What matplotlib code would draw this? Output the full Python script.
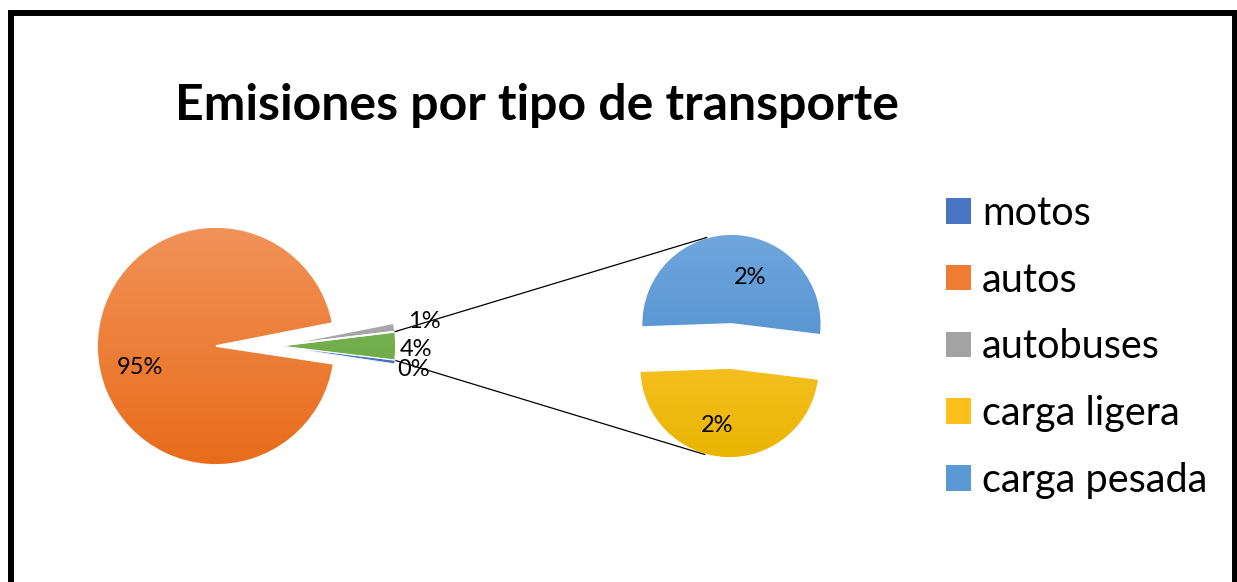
import numpy as np
import matplotlib.pyplot as plt
from matplotlib.patches import Patch
from matplotlib.colors import LinearSegmentedColormap

plt.rcParams['font.family'] = ['Lato', 'DejaVu Sans']

# datos (emisiones relativas)
categorias = ['motos', 'autos', 'autobuses', 'carga ligera', 'carga pesada']
emisiones = [0.48, 98.0, 1.2, 1.9, 2.1]
titulo = 'Emisiones por tipo de transporte'

# colores (arriba, abajo) del degradado de cada serie
col_arriba = ['#5D86D0', '#F19258', '#B3B3B3', '#FFCB40', '#6FA7DD']
col_abajo = ['#3262B8', '#E86C1A', '#979797', '#EAB400', '#4889CA']
col_otro = ('#82BC5C', '#62A03A')
col_leyenda = ['#4A74C4', '#EE7D33', '#A3A3A3', '#FBC11A', '#5A99D5']

W, H = 1237, 582
fig = plt.figure(figsize=(W / 100, H / 100), dpi=100)
ax = fig.add_axes([0, 0, 1, 1])

def degradado(w, c1, c2, z=2):
    cx, cy = w.center
    r = w.r
    cmap = LinearSegmentedColormap.from_list('g', [c2, c1])
    grad = np.linspace(0, 1, 256).reshape(-1, 1)
    im = ax.imshow(grad, cmap=cmap, extent=[cx - r, cx + r, cy - r, cy + r],
                   origin='lower', aspect='auto', zorder=z - 1)
    im.set_clip_path(w)
    w.set_facecolor('none')
    w.set_zorder(z)

total = sum(emisiones)
# pastel principal: motos, autos, autobuses, otro
otro = emisiones[3] + emisiones[4]
principal = [emisiones[0], emisiones[1], emisiones[2], otro]
c_main = (216, H - 346)
r_main = 119
w_main, _, t_main = ax.pie(principal, radius=r_main, center=c_main, counterclock=False,
                           startangle=-otro / total * 360 / 2, frame=True,
                           autopct=lambda p: f'{p:.0f}%',
                           textprops=dict(fontsize=17, color='black'),
                           wedgeprops=dict(edgecolor='white', linewidth=1.3))
colores_main = [(col_arriba[0], col_abajo[0]), (col_arriba[1], col_abajo[1]),
                (col_arriba[2], col_abajo[2]), col_otro]
desplaz = 61
for i, w in enumerate(w_main):
    if i != 1:
        w.set_center((c_main[0] + desplaz, c_main[1]))
    degradado(w, *colores_main[i])
# motos es muy delgada: encima, con borde fino
w_main[0].set_linewidth(0.6)
degradado(w_main[0], *colores_main[0], z=4)
pos_main = [(414, 370), (140, 367), (424, 321), (416, 349)]
for t, (px, py) in zip(t_main, pos_main):
    t.set_position((px, H - py))
    t.set_ha('center')
    t.set_va('center')
    t.set_zorder(5)

# pastel secundario: carga pesada, carga ligera
secundario = [emisiones[4], emisiones[3]]
c_sec = (730.5, H - 346)
r_sec = 90
w_sec, _, t_sec = ax.pie(secundario, radius=r_sec, center=c_sec, startangle=-7,
                         explode=[22, 22], frame=True,
                         autopct=lambda p: f'{p * otro / total:.0f}%',
                         textprops=dict(fontsize=17, color='black'),
                         wedgeprops=dict(edgecolor='white', linewidth=1.3))
degradado(w_sec[0], col_arriba[4], col_abajo[4])
degradado(w_sec[1], col_arriba[3], col_abajo[3])
for t, (px, py) in zip(t_sec, [(750, 278), (717, 425)]):
    t.set_position((px, H - py))
    t.set_ha('center')
    t.set_va('center')
    t.set_zorder(5)

# lineas de conexion
wo = w_main[3]
ang = 106
for th, ws, a in [(wo.theta2, w_sec[0], ang), (wo.theta1, w_sec[1], -ang)]:
    x0 = wo.center[0] + wo.r * np.cos(np.radians(th))
    y0 = wo.center[1] + wo.r * np.sin(np.radians(th))
    x1 = ws.center[0] + ws.r * np.cos(np.radians(a))
    y1 = ws.center[1] + ws.r * np.sin(np.radians(a))
    ax.plot([x0, x1], [y0, y1], color='black', lw=0.9, zorder=3)

ax.text(537, H - 106, titulo, fontsize=36, fontweight='bold', ha='center', va='center')

handles = [Patch(facecolor=c, edgecolor='none') for c in col_leyenda]
leg = ax.legend(handles, categorias, loc='upper left', bbox_to_anchor=(946 / W, 1 - 195 / H),
                frameon=False, fontsize=28.5, handlelength=0.63, handleheight=0.61,
                handletextpad=0.28, labelspacing=0.75, borderpad=0, borderaxespad=0)

# marco
ax.plot([11, 11, 1235, 1235], [-10, H - 13, H - 13, -10], color='black', lw=4.3,
        solid_joinstyle='miter', clip_on=False, zorder=6)

ax.set_xlim(0, W)
ax.set_ylim(0, H)
ax.set_axis_off()
fig.savefig('out.png', dpi=100)
